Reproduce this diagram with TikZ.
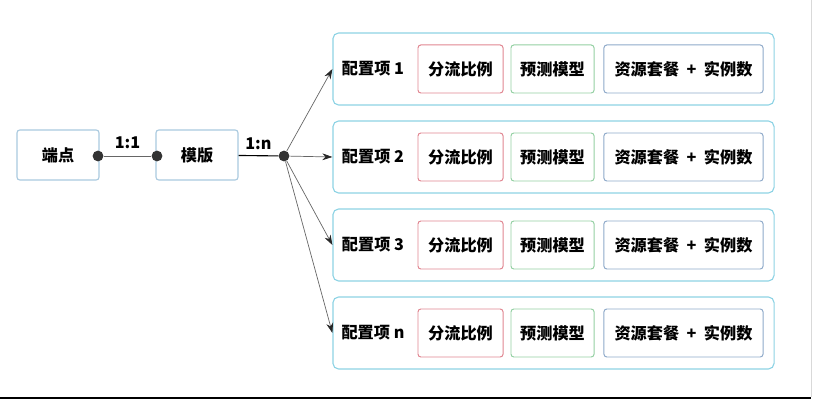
\documentclass[tikz,border=0pt]{standalone}
\usepackage{fontspec}
\setmainfont{Noto Sans CJK SC}
\usetikzlibrary{arrows.meta}
\definecolor{boxblue}{HTML}{A9C9DE}
\definecolor{outercyan}{HTML}{8DD3E4}
\definecolor{splitred}{HTML}{E08590}
\definecolor{modelgreen}{HTML}{93CFA2}
\definecolor{resblue}{HTML}{8EA9C9}
\tikzset{
  every node/.style={font=\fontsize{11.5}{13}\selectfont\bfseries,inner sep=0pt,text=black},
  endbox/.style={draw=boxblue,rounded corners=2pt,line width=0.8pt,minimum width=2.05cm,minimum height=1.25cm},
  cfgbox/.style={draw=outercyan,rounded corners=4pt,line width=0.8pt,minimum width=11.025cm,minimum height=1.8cm},
  splitbox/.style={draw=splitred,rounded corners=2pt,line width=0.7pt,minimum width=2.125cm,minimum height=1.2cm},
  modelbox/.style={draw=modelgreen,rounded corners=2pt,line width=0.7pt,minimum width=2.075cm,minimum height=1.2cm},
  resbox/.style={draw=resblue,rounded corners=2pt,line width=0.7pt,minimum width=3.975cm,minimum height=1.2cm},
  dot/.style={circle,fill=black!80,minimum size=0.27cm},
  link/.style={draw=black!60,line width=0.5pt,-{Stealth[length=0.25cm,width=0.17cm,color=black!85]}}
}

\begin{document}
\begin{tikzpicture}[x=0.025cm,y=-0.025cm]
      \useasboundingbox (0,0) rectangle (816,400);

      \node[endbox] (E) at (58,155) {端点};
      \node[endbox] (T) at (197,155) {模版};
      \node[dot] (A) at (98,156) {};
      \node[dot] (B) at (157,156) {};
      \node[dot] (H) at (284,156) {};

      \node[cfgbox] (C1) at (553.5,69) {};
      \node[cfgbox] (C2) at (553.5,157) {};
      \node[cfgbox] (C3) at (553.5,245) {};
      \node[cfgbox] (C4) at (553.5,333) {};

      \node (L1) at (373,69) {配置项 1};
      \node[splitbox] (S1) at (460.5,69) {分流比例};
      \node[modelbox] (M1) at (552.5,69) {预测模型};
      \node[resbox] (R1) at (683.5,69) {资源套餐\ \ +\ \ 实例数};

      \node (L2) at (373,157) {配置项 2};
      \node[splitbox] (S2) at (460.5,157) {分流比例};
      \node[modelbox] (M2) at (552.5,157) {预测模型};
      \node[resbox] (R2) at (683.5,157) {资源套餐\ \ +\ \ 实例数};

      \node (L3) at (373,245) {配置项 3};
      \node[splitbox] (S3) at (460.5,245) {分流比例};
      \node[modelbox] (M3) at (552.5,245) {预测模型};
      \node[resbox] (R3) at (683.5,245) {资源套餐\ \ +\ \ 实例数};

      \node (L4) at (373,333) {配置项 n};
      \node[splitbox] (S4) at (460.5,333) {分流比例};
      \node[modelbox] (M4) at (552.5,333) {预测模型};
      \node[resbox] (R4) at (683.5,333) {资源套餐\ \ +\ \ 实例数};

      \draw[black!60,line width=0.6pt] (A) -- node[above=5pt] {1:1} (B);
      \draw[black,line width=0.8pt] (T) -- node[above=4pt] {1:n} (H);
      \draw[link] (H) -- (C1.west);
      \draw[link] (H) -- (C2.west);
      \draw[link] (H) -- (C3.west);
      \draw[link] (H) -- (C4.west);

      % screenshot frame
      \draw[black!15,line width=0.5pt] (811,0) -- (811,397);
      \draw[black,line width=1.5pt] (0,398) -- (811,398);
    \end{tikzpicture}
\end{document}
